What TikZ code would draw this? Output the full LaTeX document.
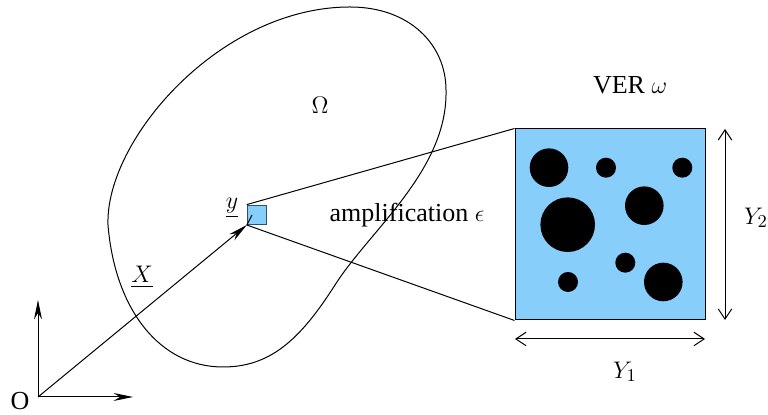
\documentclass[tikz,border=0pt]{standalone}
\usepackage{amsmath}
\usepackage{fontspec}
\setmainfont{Liberation Serif}
\usepackage{xcolor}
\usetikzlibrary{arrows.meta,calc}
\definecolor{verblau}{HTML}{87CEFA}
\definecolor{zellrand}{HTML}{2F4F6F}
\newcommand{\Inclusion}[3]{%
  \fill (#1,#2) circle (#3);
}
\tikzset{
  fleche/.style={-{Stealth[length=3.4mm,width=1.4mm]}},
  cote/.style={{Straight Barb[length=1.8mm,width=2.4mm]}-{Straight Barb[length=1.8mm,width=2.4mm]}},
  etiq/.style={inner sep=1pt},
}
\begin{document}
\begin{tikzpicture}[x=0.5pt,y=-0.5pt,line width=0.5pt,font=\fontsize{13}{15.6}\selectfont]
  \useasboundingbox (0,0) rectangle (768,415);
  \draw (350,7) .. controls (410,7) and (446,45) .. (446,90)
    .. controls (448,170) and (370,230) .. (335,285)
    .. controls (300,340) and (270,367) .. (223,367)
    .. controls (160,367) and (115,310) .. (108,225)
    .. controls (105,140) and (220,7) .. (350,7) -- cycle;
  \node[draw,fill=verblau,minimum width=95pt,minimum height=95.5pt,inner sep=0pt] (ver) at (610,224.5) {};
  \Inclusion{549}{167.7}{19.3}
  \Inclusion{606}{167.7}{10}
  \Inclusion{682.3}{167.7}{10}
  \Inclusion{644.3}{205.7}{19.3}
  \Inclusion{567.7}{224.7}{27.3}
  \Inclusion{625.3}{262.7}{10}
  \Inclusion{568}{282}{10}
  \Inclusion{663.3}{282}{19.3}
  \node[draw=zellrand,fill=verblau,minimum size=9.7pt,inner sep=0pt] (cellule) at (257,214.8) {};
  \draw (cellule.north west) -- (ver.north west);
  \draw (cellule.south west) -- (ver.south west);
  \coordinate (O) at (38,397);
  \coordinate (e1) at (133,397);
  \coordinate (e2) at (38,300);
  \coordinate (ypt) at (252,215);
  \draw[fleche] (O) -- (e1);
  \draw[fleche] (O) -- (e2);
  \draw[fleche] (O) -- (cellule.south west);
  \draw (cellule.south west) -- (ypt);
  \coordinate (h1) at (515,339);
  \coordinate (h2) at (705,339);
  \coordinate (v1) at (725,129);
  \coordinate (v2) at (725,320);
  \draw[cote] (h1) -- (h2);
  \draw[cote] (v1) -- (v2);
  \node[etiq] (lO) at (20,401) {O};
  \node[etiq] (lX) at (142,277) {$\underline{X}$};
  \node[etiq] (ly) at (232,208) {$\underline{y}$};
  \node[etiq] (lOmega) at (320,105) {$\Omega$};
  \node[etiq] (lampl) at (407,215) {amplification $\epsilon$};
  \node[etiq] (lver) at (630,85) {VER $\omega$};
  \node[etiq] (lY2) at (756,218) {$Y_2$};
  \node[etiq] (lY1) at (625,372) {$Y_1$};
\end{tikzpicture}
\end{document}
